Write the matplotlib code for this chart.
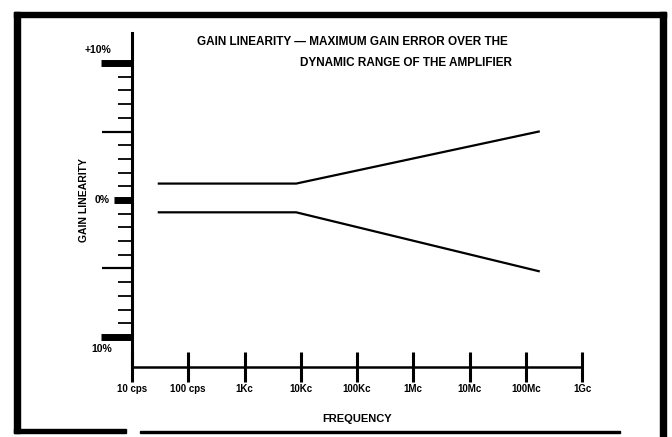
import numpy as np
import matplotlib
matplotlib.use('Agg')
import matplotlib.pyplot as plt
from matplotlib.patches import Rectangle

plt.rcParams['font.family'] = ['Liberation Sans Narrow', 'Liberation Sans', 'DejaVu Sans']

# frequency (cps) and gain error (%)
freq = [30, 8.3e3, 1.7e8]
upper = [1.2, 1.2, 5.0]
lower = [-0.9, -0.9, -5.2]

xticks = [1e1, 1e2, 1e3, 1e4, 1e5, 1e6, 1e7, 1e8, 1e9]
xlabels = ["10 cps", "100 cps", "1Kc", "10Kc", "100Kc", "1Mc", "10Mc", "100Mc", "1Gc"]
ymajor = [-10, 0, 10]
ymid = [-5, 5]

W, H = 672, 437
fig = plt.figure(figsize=(W / 100, H / 100), dpi=100)
ax = fig.add_axes([132 / W, (H - 367) / H, 450 / W, 334 / H])

ax.plot(freq, upper, color='black', lw=1.6)
ax.plot(freq, lower, color='black', lw=1.6)

ax.set_xscale('log')
ax.set_xlim(10, 1e9)
ax.set_ylim(-12.2, 12.2)
for s in ['top', 'right']:
    ax.spines[s].set_visible(False)
ax.spines['left'].set_linewidth(2.2)
ax.spines['bottom'].set_linewidth(1.8)

ax.set_xticks(xticks)
ax.set_xticklabels(xlabels)
ax.xaxis.set_minor_locator(matplotlib.ticker.NullLocator())
ax.tick_params(axis='x', direction='inout', length=21, width=2.2, pad=2, labelsize=7)
for t in ax.get_xticklabels():
    t.set_fontweight('bold')

ax.set_yticks(np.arange(-10, 11, 1))
ax.set_yticklabels([])
ax.tick_params(axis='y', direction='out', length=10, width=1.3)

# longer marks at +-5 and heavy marks at 0 and +-10
trans = ax.get_yaxis_transform()
ax.hlines(ymid, -0.066, 0, transform=trans, color='black', lw=1.6, clip_on=False)
ax.hlines(ymajor, [-0.07, -0.04, -0.07], 0, transform=trans, color='black', lw=5,
          clip_on=False)

ax.text(-0.045, 10.6, "+10%", transform=trans, ha='right', va='bottom',
        fontsize=7.5, fontweight='bold')
ax.text(-0.05, 0, "0%", transform=trans, ha='right', va='center',
        fontsize=7.5, fontweight='bold')
ax.text(-0.045, -10.5, "10%", transform=trans, ha='right', va='top',
        fontsize=7.5, fontweight='bold')

ax.set_ylabel("GAIN LINEARITY", fontsize=7.5, fontweight='bold')
ax.yaxis.set_label_coords(-0.095, 0.5)
ax.set_xlabel("FREQUENCY", fontsize=8, fontweight='bold', labelpad=14)

fig.text(197 / W, 1 - 42 / H, "GAIN LINEARITY \u2014 MAXIMUM GAIN ERROR OVER THE",
         ha='left', va='center', fontsize=8.5, fontweight='bold')
fig.text(512 / W, 1 - 63 / H, "DYNAMIC RANGE OF THE AMPLIFIER",
         ha='right', va='center', fontsize=8.5, fontweight='bold')

# heavy frame around the figure
def box(x, y, w, h):
    fig.patches.append(Rectangle((x / W, 1 - (y + h) / H), w / W, h / H,
                                 transform=fig.transFigure, color='black'))

box(14, 12, 652, 5)
box(14, 12, 6, 421)
box(660, 12, 6, 425)
box(14, 429, 112, 4)
box(140, 431, 480, 2)

fig.savefig('out.png', dpi=100)
